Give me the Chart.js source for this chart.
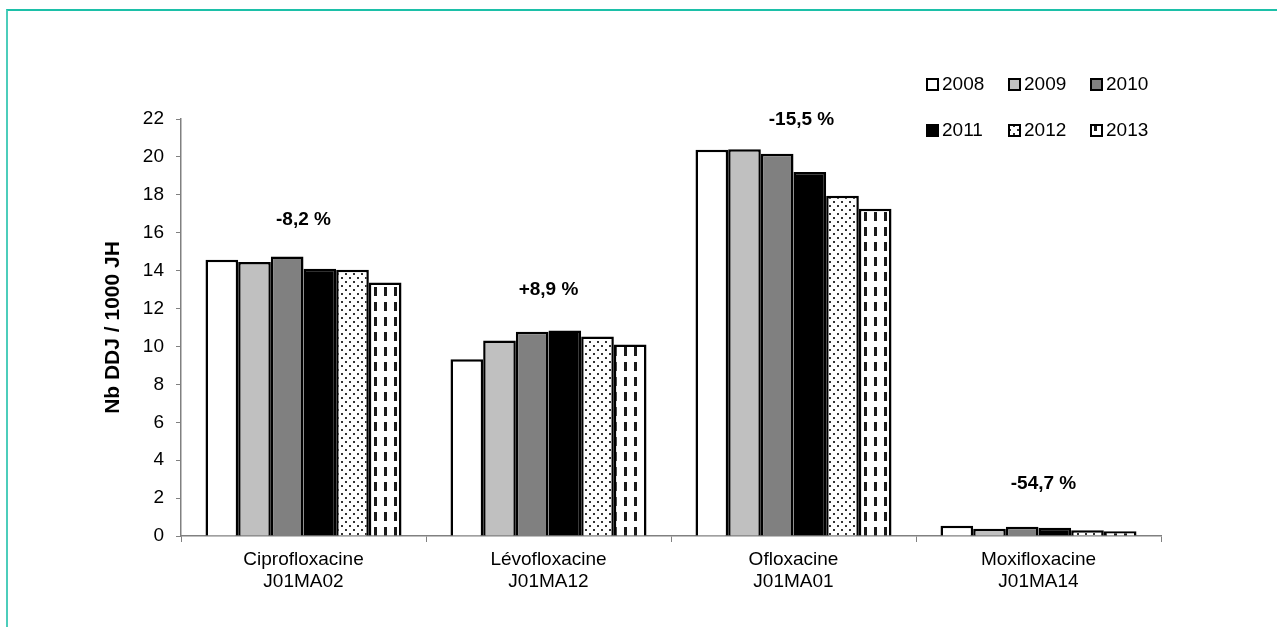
<!DOCTYPE html>
<html>
<head>
<meta charset="utf-8">
<script src="https://cdn.jsdelivr.net/npm/chart.js@4/dist/chart.umd.min.js"></script>
<style>
  html, body { margin: 0; padding: 0; background: #fff; }
  #wrap { position: relative; width: 1277px; height: 627px; overflow: hidden; }
  #frame { position: absolute; left: 6px; top: 9px; width: 1290px; height: 640px;
           border-top: 2px solid #1cc0a8; border-left: 2px solid #4ccdbb; }
  #c { position: absolute; left: 0; top: 0; }
</style>
</head>
<body>
<div id="wrap">
  <div id="frame"></div>
  <canvas id="c" width="1277" height="627"></canvas>
</div>
<script>
const molecules = [
  ["Ciprofloxacine", "J01MA02"],
  ["Lévofloxacine", "J01MA12"],
  ["Ofloxacine", "J01MA01"],
  ["Moxifloxacine", "J01MA14"]
];
const years = ["2008", "2009", "2010", "2011", "2012", "2013"];

// Nb DDJ / 1000 JH, one array per year (cipro, levo, oflo, moxi)
const v2008 = [14.57, 9.32, 20.38, 0.54];
const v2009 = [14.45, 10.31, 20.41, 0.38];
const v2010 = [14.75, 10.77, 20.17, 0.49];
const v2011 = [14.10, 10.84, 19.20, 0.43];
const v2012 = [14.05, 10.52, 17.95, 0.30];
const v2013 = [13.37, 10.10, 17.26, 0.25];

const changeLabels = ["-8,2 %", "+8,9 %", "-15,5 %", "-54,7 %"];
const yTicks = [0, 2, 4, 6, 8, 10, 12, 14, 16, 18, 20, 22];

const FONT = "'Liberation Sans', Arial, sans-serif";

function makePattern(kind) {
  const t = document.createElement("canvas");
  const g = t.getContext("2d");
  if (kind === "dots") {
    t.width = 8; t.height = 8;
    g.fillStyle = "#fff"; g.fillRect(0, 0, 8, 8);
    g.fillStyle = "#333";
    g.fillRect(1, 1, 2, 2);
    g.fillRect(5, 5, 2, 2);
  } else {
    t.width = 10; t.height = 15;
    g.fillStyle = "#fff"; g.fillRect(0, 0, 10, 15);
    g.fillStyle = "#1a1a1a";
    g.fillRect(4, 2, 3, 9);
  }
  return document.getElementById("c").getContext("2d").createPattern(t, "repeat");
}

const fills = ["#ffffff", "#c0c0c0", "#808080", "#000000", makePattern("dots"), makePattern("dash")];
const series = [v2008, v2009, v2010, v2011, v2012, v2013];

const boxLegend = {
  id: "boxLegend",
  afterDraw(chart, args, opts) {
    const ctx = chart.ctx;
    ctx.save();
    ctx.font = "19px " + FONT;
    ctx.textBaseline = "middle";
    chart.data.datasets.forEach((ds, i) => {
      const x = opts.x0 + (i % 3) * opts.dx;
      const y = opts.y0 + Math.floor(i / 3) * opts.dy;
      ctx.fillStyle = ds.backgroundColor;
      ctx.fillRect(x, y - 5, 11, 11);
      ctx.strokeStyle = "#000";
      ctx.lineWidth = 2;
      ctx.strokeRect(x, y - 5, 11, 11);
      ctx.fillStyle = "#000";
      ctx.fillText(ds.label, x + 15, y + 1);
    });
    ctx.restore();
  }
};

const changeText = {
  id: "changeText",
  afterDatasetsDraw(chart, args, opts) {
    const ctx = chart.ctx;
    const xs = chart.scales.x, ys = chart.scales.y;
    ctx.save();
    ctx.font = "bold 19px " + FONT;
    ctx.fillStyle = "#000";
    ctx.textAlign = "center";
    ctx.textBaseline = "middle";
    changeLabels.forEach((txt, i) => {
      ctx.fillText(txt, xs.getPixelForValue(i) + opts.dx[i], ys.getPixelForValue(opts.y[i]));
    });
    ctx.restore();
  }
};

new Chart(document.getElementById("c"), {
  type: "bar",
  data: {
    labels: molecules,
    datasets: series.map((vals, i) => ({
      label: years[i],
      data: vals,
      backgroundColor: fills[i],
      borderColor: "#000",
      borderWidth: 2.5,
      categoryPercentage: 0.8,
      barPercentage: 1.0
    }))
  },
  options: {
    responsive: false,
    animation: false,
    layout: { padding: { left: 95, top: 119, right: 116, bottom: 0 } },
    plugins: {
      legend: { display: false },
      tooltip: { enabled: false },
      boxLegend: { x0: 927, y0: 84, dx: 82, dy: 46 },
      changeText: { dx: [0, 0, 8, 5], y: [16.67, 12.98, 21.95, 2.74] }
    },
    scales: {
      x: {
        grid: { drawOnChartArea: false, drawTicks: true, tickLength: 6, color: "#808080", offset: true },
        border: { color: "#808080", width: 1.5 },
        ticks: {
          color: "#000", padding: 6, maxRotation: 0, autoSkip: false,
          font: { family: FONT, size: 19, lineHeight: 1.2 }
        },
        afterFit(scale) { scale.height = 91; }
      },
      y: {
        min: 0, max: 22,
        afterBuildTicks(scale) { scale.ticks = yTicks.map(v => ({ value: v })); },
        grid: { drawOnChartArea: false, drawTicks: true, tickLength: 5, color: "#808080" },
        border: { color: "#808080", width: 1.5 },
        ticks: {
          color: "#000", padding: 12,
          font: { family: FONT, size: 19 }
        },
        title: {
          display: true, text: "Nb DDJ / 1000 JH", color: "#000",
          font: { family: FONT, size: 21, weight: "bold" },
          padding: { top: 6, bottom: 0 }
        },
        afterFit(scale) { scale.width = 86; }
      }
    }
  },
  plugins: [boxLegend, changeText]
});
</script>
</body>
</html>
